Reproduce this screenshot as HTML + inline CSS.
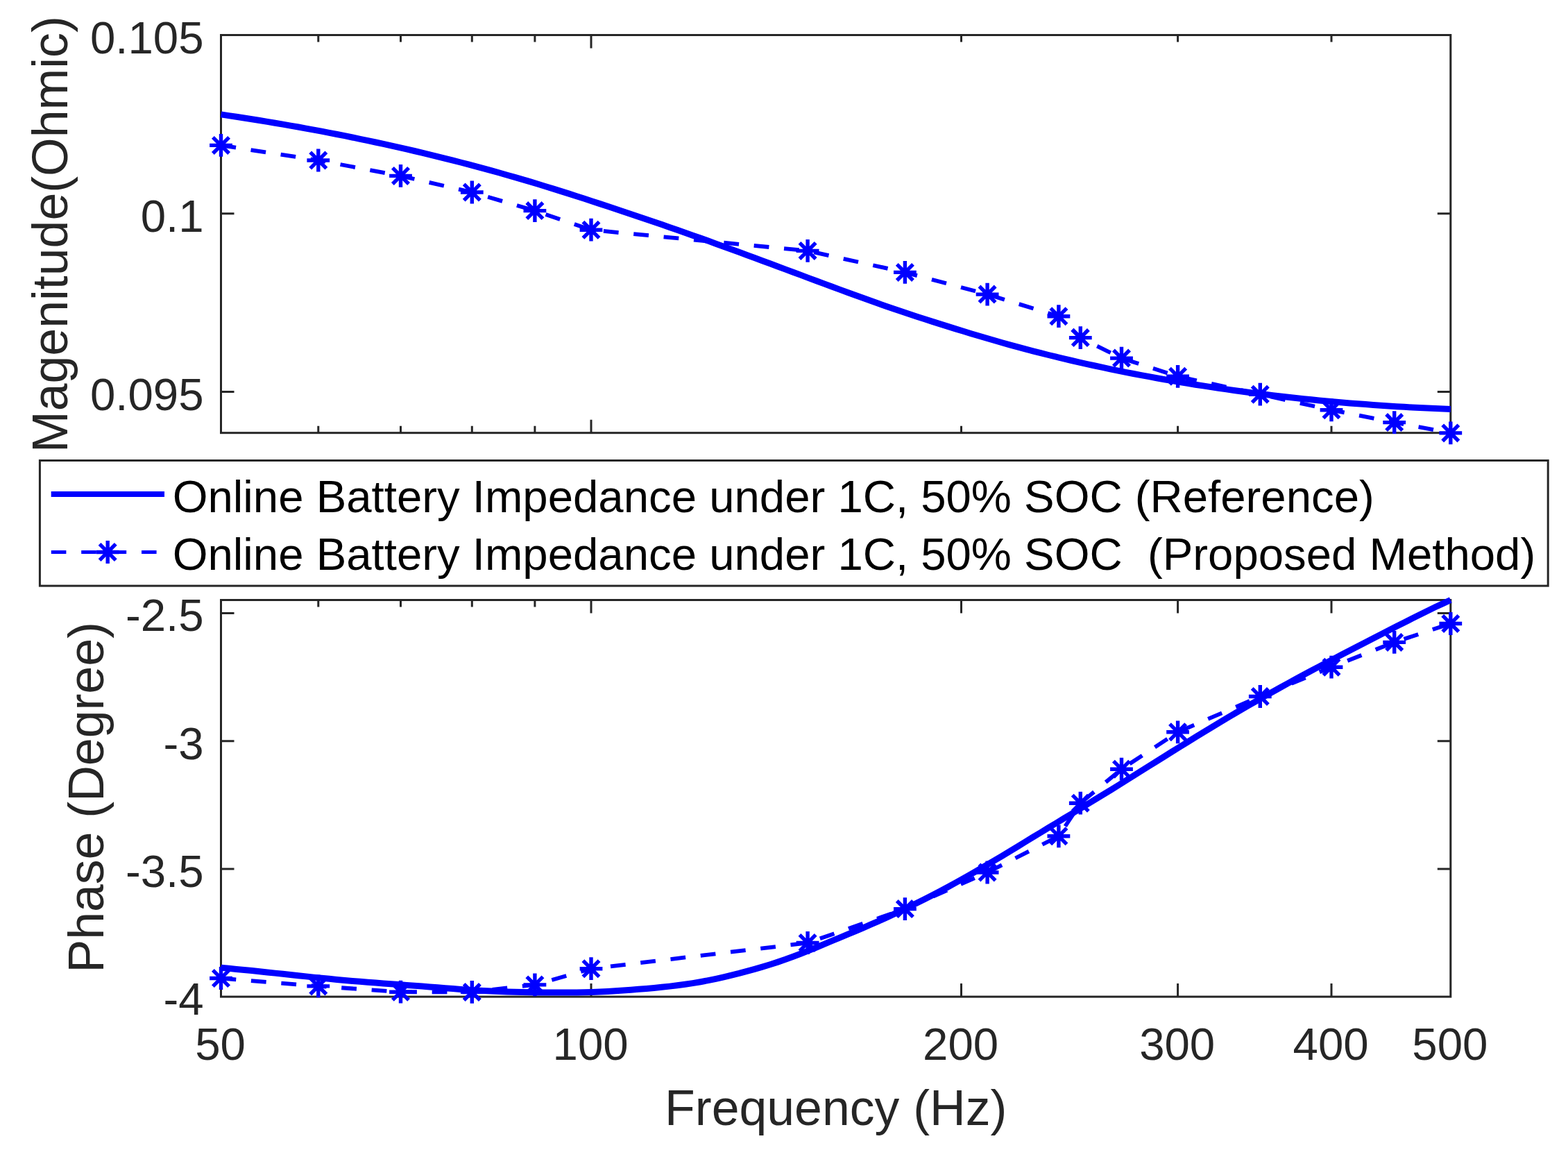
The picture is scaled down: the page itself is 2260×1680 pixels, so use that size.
<!DOCTYPE html>
<html lang="en">
<head>
<meta charset="utf-8">
<title>Online Battery Impedance</title>
<style>
html,body{margin:0;padding:0;background:#fff;}
body{width:2260px;height:1680px;overflow:hidden;}
svg{display:block;}
text{font-family:"Liberation Sans",Arial,Helvetica,sans-serif;}
.tk{font-size:65.4px;fill:#262626;}
.lb{font-size:71.6px;fill:#262626;}
.lg{font-size:65.34px;fill:#000;}
.ax{stroke:#262626;stroke-width:3.0;fill:none;stroke-linecap:butt;}
.sl{stroke:#0000ff;stroke-width:9.0;fill:none;stroke-linejoin:round;stroke-linecap:butt;}
.dl{stroke:#0000ff;stroke-width:5.8;fill:none;stroke-dasharray:21.8 21.76;stroke-linejoin:round;}
.mk{stroke:#0000ff;stroke-width:5.4;fill:none;}
</style>
</head>
<body>
<svg xmlns="http://www.w3.org/2000/svg" width="2260" height="1680" viewBox="0 0 2260 1680">
<rect x="0" y="0" width="2260" height="1680" fill="#ffffff"/>

<g class="ax" id="ax1">
<rect x="318.5" y="50.5" width="1772.3" height="573.2"/>
<path d="M458.8 623.7v-10.0M458.8 50.5v10.0M577.5 623.7v-10.0M577.5 50.5v10.0M680.3 623.7v-10.0M680.3 50.5v10.0M770.9 623.7v-10.0M770.9 50.5v10.0M852.0 623.7v-19.0M852.0 50.5v19.0M1385.5 623.7v-10.0M1385.5 50.5v10.0M1697.6 623.7v-10.0M1697.6 50.5v10.0M1919.0 623.7v-10.0M1919.0 50.5v10.0M318.5 307.8h19.0M2090.8 307.8h-19.0M318.5 564.5h19.0M2090.8 564.5h-19.0"/>
</g>
<g class="ax" id="ax2">
<rect x="318.5" y="864.5" width="1772.3" height="571.6"/>
<path d="M458.8 1436.1v-10.0M458.8 864.5v10.0M577.5 1436.1v-10.0M577.5 864.5v10.0M680.3 1436.1v-10.0M680.3 864.5v10.0M770.9 1436.1v-10.0M770.9 864.5v10.0M852.0 1436.1v-19.0M852.0 864.5v19.0M1385.5 1436.1v-19.0M1385.5 864.5v19.0M1697.6 1436.1v-19.0M1697.6 864.5v19.0M1919.0 1436.1v-19.0M1919.0 864.5v19.0M318.5 883.6h19.0M2090.8 883.6h-19.0M318.5 1067.7h19.0M2090.8 1067.7h-19.0M318.5 1251.9h19.0M2090.8 1251.9h-19.0"/>
</g>
<g class="tk" text-anchor="end">
<text x="293.6" y="76.6">0.105</text>
<text x="293.6" y="333.9">0.1</text>
<text x="293.6" y="591.1">0.095</text>
<text x="293.6" y="908.5">-2.5</text>
<text x="293.6" y="1094.4">-3</text>
<text x="293.6" y="1277.6">-3.5</text>
<text x="293.6" y="1461.6">-4</text>
</g>
<g class="tk" text-anchor="middle">
<text x="317.6" y="1526.7">50</text>
<text x="851.1" y="1526.7">100</text>
<text x="1384.6" y="1526.7">200</text>
<text x="1696.7" y="1526.7">300</text>
<text x="1918.1" y="1526.7">400</text>
<text x="2089.9" y="1526.7">500</text>
</g>
<text class="lb" text-anchor="middle" x="1204.75" y="1620.7">Frequency (Hz)</text>
<text class="lb" text-anchor="middle" transform="translate(97.0 337.6) rotate(-90)">Magenitude(Ohmic)</text>
<text class="lb" text-anchor="middle" transform="translate(148.9 1148.9) rotate(-90)">Phase (Degree)</text>
<g id="d1">
<polyline class="sl" points="318.5,164.9 329.6,166.6 340.8,168.2 351.9,170.0 363.1,171.7 374.2,173.5 385.4,175.4 396.5,177.2 407.7,179.1 418.8,181.1 430.0,183.0 441.1,185.1 452.3,187.1 463.4,189.2 474.6,191.3 485.7,193.5 496.8,195.7 508.0,198.0 519.1,200.3 530.3,202.6 541.4,205.0 552.6,207.4 563.7,209.9 574.9,212.4 586.0,214.9 597.2,217.5 608.3,220.2 619.5,222.8 630.6,225.6 641.7,228.3 652.9,231.2 664.0,234.0 675.2,236.9 686.3,239.9 697.5,242.9 708.6,245.9 719.8,249.0 730.9,252.2 742.1,255.4 753.2,258.6 764.4,261.9 775.5,265.3 786.7,268.7 797.8,272.1 808.9,275.6 820.1,279.1 831.2,282.7 842.4,286.3 853.5,290.0 864.7,293.6 875.8,297.3 887.0,301.0 898.1,304.7 909.3,308.4 920.4,312.2 931.6,316.0 942.7,319.7 953.9,323.6 965.0,327.4 976.1,331.3 987.3,335.2 998.4,339.2 1009.6,343.1 1020.7,347.1 1031.9,351.2 1043.0,355.2 1054.2,359.3 1065.3,363.3 1076.5,367.4 1087.6,371.5 1098.8,375.7 1109.9,379.8 1121.1,383.9 1132.2,388.1 1143.3,392.2 1154.5,396.4 1165.6,400.6 1176.8,404.7 1187.9,408.9 1199.1,413.0 1210.2,417.1 1221.4,421.2 1232.5,425.3 1243.7,429.3 1254.8,433.3 1266.0,437.3 1277.1,441.2 1288.2,445.0 1299.4,448.8 1310.5,452.5 1321.7,456.2 1332.8,459.8 1344.0,463.4 1355.1,466.9 1366.3,470.4 1377.4,473.9 1388.6,477.3 1399.7,480.7 1410.9,484.0 1422.0,487.3 1433.2,490.5 1444.3,493.7 1455.4,496.8 1466.6,499.8 1477.7,502.8 1488.9,505.8 1500.0,508.6 1511.2,511.5 1522.3,514.2 1533.5,516.9 1544.6,519.5 1555.8,522.1 1566.9,524.6 1578.1,527.0 1589.2,529.4 1600.4,531.8 1611.5,534.1 1622.6,536.3 1633.8,538.5 1644.9,540.6 1656.1,542.7 1667.2,544.7 1678.4,546.7 1689.5,548.6 1700.7,550.5 1711.8,552.4 1723.0,554.2 1734.1,555.9 1745.3,557.6 1756.4,559.3 1767.6,560.9 1778.7,562.5 1789.8,564.0 1801.0,565.5 1812.1,566.9 1823.3,568.3 1834.4,569.7 1845.6,571.0 1856.7,572.2 1867.9,573.5 1879.0,574.7 1890.2,575.8 1901.3,576.9 1912.5,578.0 1923.6,579.0 1934.7,579.9 1945.9,580.9 1957.0,581.8 1968.2,582.6 1979.3,583.5 1990.5,584.2 2001.6,585.0 2012.8,585.7 2023.9,586.3 2035.1,587.0 2046.2,587.5 2057.4,588.1 2068.5,588.6 2079.7,589.1 2090.8,589.5"/>
<polyline class="dl" points="318.5,209.4 458.8,231.0 577.5,253.4 680.3,277.0 770.9,303.6 852.0,331.2 1164.1,361.4 1304.4,392.4 1423.1,424.1 1525.9,455.7 1557.3,486.6 1616.5,516.1 1697.6,542.3 1816.3,568.2 1919.0,590.8 2009.7,608.6 2090.8,623.9"/>
<g class="mk">
<path d="M302.1 209.4H334.9M318.5 193.0V225.8M306.9 197.8L330.1 221.0M306.9 221.0L330.1 197.8"/>
<path d="M442.4 231.0H475.2M458.8 214.6V247.4M447.2 219.4L470.4 242.6M447.2 242.6L470.4 219.4"/>
<path d="M561.1 253.4H593.9M577.5 237.0V269.8M565.9 241.8L589.1 265.0M565.9 265.0L589.1 241.8"/>
<path d="M663.9 277.0H696.7M680.3 260.6V293.4M668.7 265.4L691.9 288.6M668.7 288.6L691.9 265.4"/>
<path d="M754.5 303.6H787.3M770.9 287.2V320.0M759.3 292.0L782.5 315.2M759.3 315.2L782.5 292.0"/>
<path d="M835.6 331.2H868.4M852.0 314.8V347.6M840.4 319.6L863.6 342.8M840.4 342.8L863.6 319.6"/>
<path d="M1147.7 361.4H1180.5M1164.1 345.0V377.8M1152.5 349.8L1175.7 373.0M1152.5 373.0L1175.7 349.8"/>
<path d="M1288.0 392.4H1320.8M1304.4 376.0V408.8M1292.8 380.8L1316.0 404.0M1292.8 404.0L1316.0 380.8"/>
<path d="M1406.7 424.1H1439.5M1423.1 407.7V440.5M1411.5 412.5L1434.7 435.7M1411.5 435.7L1434.7 412.5"/>
<path d="M1509.5 455.7H1542.3M1525.9 439.3V472.1M1514.3 444.1L1537.5 467.3M1514.3 467.3L1537.5 444.1"/>
<path d="M1540.9 486.6H1573.7M1557.3 470.2V503.0M1545.7 475.0L1568.9 498.2M1545.7 498.2L1568.9 475.0"/>
<path d="M1600.1 516.1H1632.9M1616.5 499.7V532.5M1604.9 504.5L1628.1 527.7M1604.9 527.7L1628.1 504.5"/>
<path d="M1681.2 542.3H1714.0M1697.6 525.9V558.7M1686.0 530.7L1709.2 553.9M1686.0 553.9L1709.2 530.7"/>
<path d="M1799.9 568.2H1832.7M1816.3 551.8V584.6M1804.7 556.6L1827.9 579.8M1804.7 579.8L1827.9 556.6"/>
<path d="M1902.6 590.8H1935.4M1919.0 574.4V607.2M1907.4 579.2L1930.6 602.4M1907.4 602.4L1930.6 579.2"/>
<path d="M1993.3 608.6H2026.1M2009.7 592.2V625.0M1998.1 597.0L2021.3 620.2M1998.1 620.2L2021.3 597.0"/>
<path d="M2074.4 623.9H2107.2M2090.8 607.5V640.3M2079.2 612.3L2102.4 635.5M2079.2 635.5L2102.4 612.3"/>
</g></g>
<g id="d2">
<polyline class="sl" points="318.5,1394.3 329.6,1395.3 340.8,1396.4 351.9,1397.5 363.1,1398.6 374.2,1399.8 385.4,1400.9 396.5,1402.1 407.7,1403.3 418.8,1404.5 430.0,1405.7 441.1,1406.9 452.3,1408.1 463.4,1409.2 474.6,1410.3 485.7,1411.4 496.8,1412.4 508.0,1413.4 519.1,1414.3 530.3,1415.2 541.4,1416.0 552.6,1416.9 563.7,1417.7 574.9,1418.5 586.0,1419.4 597.2,1420.2 608.3,1421.1 619.5,1422.0 630.6,1422.8 641.7,1423.7 652.9,1424.6 664.0,1425.4 675.2,1426.2 686.3,1426.9 697.5,1427.5 708.6,1428.1 719.8,1428.6 730.9,1429.0 742.1,1429.3 753.2,1429.6 764.4,1429.8 775.5,1429.9 786.7,1430.0 797.8,1430.1 808.9,1430.1 820.1,1430.1 831.2,1430.0 842.4,1429.8 853.5,1429.4 864.7,1429.0 875.8,1428.5 887.0,1427.8 898.1,1427.0 909.3,1426.2 920.4,1425.3 931.6,1424.4 942.7,1423.4 953.9,1422.3 965.0,1421.1 976.1,1419.8 987.3,1418.3 998.4,1416.6 1009.6,1414.7 1020.7,1412.6 1031.9,1410.3 1043.0,1407.8 1054.2,1405.1 1065.3,1402.4 1076.5,1399.4 1087.6,1396.3 1098.8,1393.1 1109.9,1389.7 1121.1,1386.1 1132.2,1382.3 1143.3,1378.2 1154.5,1374.0 1165.6,1369.6 1176.8,1365.0 1187.9,1360.4 1199.1,1355.7 1210.2,1351.1 1221.4,1346.4 1232.5,1341.8 1243.7,1337.1 1254.8,1332.2 1266.0,1327.3 1277.1,1322.3 1288.2,1317.1 1299.4,1311.9 1310.5,1306.5 1321.7,1301.0 1332.8,1295.4 1344.0,1289.7 1355.1,1283.9 1366.3,1278.0 1377.4,1271.9 1388.6,1265.7 1399.7,1259.4 1410.9,1253.0 1422.0,1246.5 1433.2,1239.9 1444.3,1233.3 1455.4,1226.6 1466.6,1219.8 1477.7,1213.0 1488.9,1206.2 1500.0,1199.5 1511.2,1192.7 1522.3,1186.0 1533.5,1179.2 1544.6,1172.5 1555.8,1165.8 1566.9,1159.0 1578.1,1152.2 1589.2,1145.4 1600.4,1138.6 1611.5,1131.7 1622.6,1124.8 1633.8,1117.8 1644.9,1110.8 1656.1,1103.8 1667.2,1096.9 1678.4,1089.9 1689.5,1082.9 1700.7,1076.0 1711.8,1069.1 1723.0,1062.2 1734.1,1055.4 1745.3,1048.6 1756.4,1041.9 1767.6,1035.2 1778.7,1028.6 1789.8,1022.1 1801.0,1015.7 1812.1,1009.3 1823.3,1002.9 1834.4,996.7 1845.6,990.5 1856.7,984.4 1867.9,978.3 1879.0,972.3 1890.2,966.3 1901.3,960.4 1912.5,954.5 1923.6,948.6 1934.7,942.8 1945.9,937.0 1957.0,931.2 1968.2,925.5 1979.3,919.7 1990.5,914.0 2001.6,908.3 2012.8,902.6 2023.9,896.9 2035.1,891.3 2046.2,885.7 2057.4,880.2 2068.5,874.8 2079.7,869.6 2090.8,864.5"/>
<polyline class="dl" points="318.5,1409.5 458.8,1420.9 577.5,1429.2 680.3,1429.4 770.9,1418.9 852.0,1395.7 1164.1,1358.5 1304.4,1309.6 1423.1,1257.0 1525.9,1204.8 1557.3,1157.2 1616.5,1108.2 1697.6,1054.8 1816.3,1003.5 1919.0,961.2 2009.7,925.4 2090.8,898.5"/>
<g class="mk">
<path d="M302.1 1409.5H334.9M318.5 1393.1V1425.9M306.9 1397.9L330.1 1421.1M306.9 1421.1L330.1 1397.9"/>
<path d="M442.4 1420.9H475.2M458.8 1404.5V1437.3M447.2 1409.3L470.4 1432.5M447.2 1432.5L470.4 1409.3"/>
<path d="M561.1 1429.2H593.9M577.5 1412.8V1445.6M565.9 1417.6L589.1 1440.8M565.9 1440.8L589.1 1417.6"/>
<path d="M663.9 1429.4H696.7M680.3 1413.0V1445.8M668.7 1417.8L691.9 1441.0M668.7 1441.0L691.9 1417.8"/>
<path d="M754.5 1418.9H787.3M770.9 1402.5V1435.3M759.3 1407.3L782.5 1430.5M759.3 1430.5L782.5 1407.3"/>
<path d="M835.6 1395.7H868.4M852.0 1379.3V1412.1M840.4 1384.1L863.6 1407.3M840.4 1407.3L863.6 1384.1"/>
<path d="M1147.7 1358.5H1180.5M1164.1 1342.1V1374.9M1152.5 1346.9L1175.7 1370.1M1152.5 1370.1L1175.7 1346.9"/>
<path d="M1288.0 1309.6H1320.8M1304.4 1293.2V1326.0M1292.8 1298.0L1316.0 1321.2M1292.8 1321.2L1316.0 1298.0"/>
<path d="M1406.7 1257.0H1439.5M1423.1 1240.6V1273.4M1411.5 1245.4L1434.7 1268.6M1411.5 1268.6L1434.7 1245.4"/>
<path d="M1509.5 1204.8H1542.3M1525.9 1188.4V1221.2M1514.3 1193.2L1537.5 1216.4M1514.3 1216.4L1537.5 1193.2"/>
<path d="M1540.9 1157.2H1573.7M1557.3 1140.8V1173.6M1545.7 1145.6L1568.9 1168.8M1545.7 1168.8L1568.9 1145.6"/>
<path d="M1600.1 1108.2H1632.9M1616.5 1091.8V1124.6M1604.9 1096.6L1628.1 1119.8M1604.9 1119.8L1628.1 1096.6"/>
<path d="M1681.2 1054.8H1714.0M1697.6 1038.4V1071.2M1686.0 1043.2L1709.2 1066.4M1686.0 1066.4L1709.2 1043.2"/>
<path d="M1799.9 1003.5H1832.7M1816.3 987.1V1019.9M1804.7 991.9L1827.9 1015.1M1804.7 1015.1L1827.9 991.9"/>
<path d="M1902.6 961.2H1935.4M1919.0 944.8V977.6M1907.4 949.6L1930.6 972.8M1907.4 972.8L1930.6 949.6"/>
<path d="M1993.3 925.4H2026.1M2009.7 909.0V941.8M1998.1 913.8L2021.3 937.0M1998.1 937.0L2021.3 913.8"/>
<path d="M2074.4 898.5H2107.2M2090.8 882.1V914.9M2079.2 886.9L2102.4 910.1M2079.2 910.1L2102.4 886.9"/>
</g></g>
<rect x="57.4" y="663.5" width="2173.8" height="180.6" fill="#fff" stroke="#262626" stroke-width="3.0"/>
<path class="sl" style="stroke-width:8" d="M73.7 712H237"/>
<path class="dl" style="stroke-width:5;stroke-dasharray:21.6 21.8" d="M73.8 795.5H237"/>
<g class="mk"><path d="M138.8 795.5H171.6M155.2 779.1V811.9M143.6 783.9L166.8 807.1M143.6 807.1L166.8 783.9"/></g>
<text class="lg" x="248.7" y="738.2" xml:space="preserve">Online Battery Impedance under 1C, 50% SOC (Reference)</text>
<text class="lg" x="248.7" y="821.3" xml:space="preserve">Online Battery Impedance under 1C, 50% SOC  (Proposed Method)</text>
</svg>
</body>
</html>
